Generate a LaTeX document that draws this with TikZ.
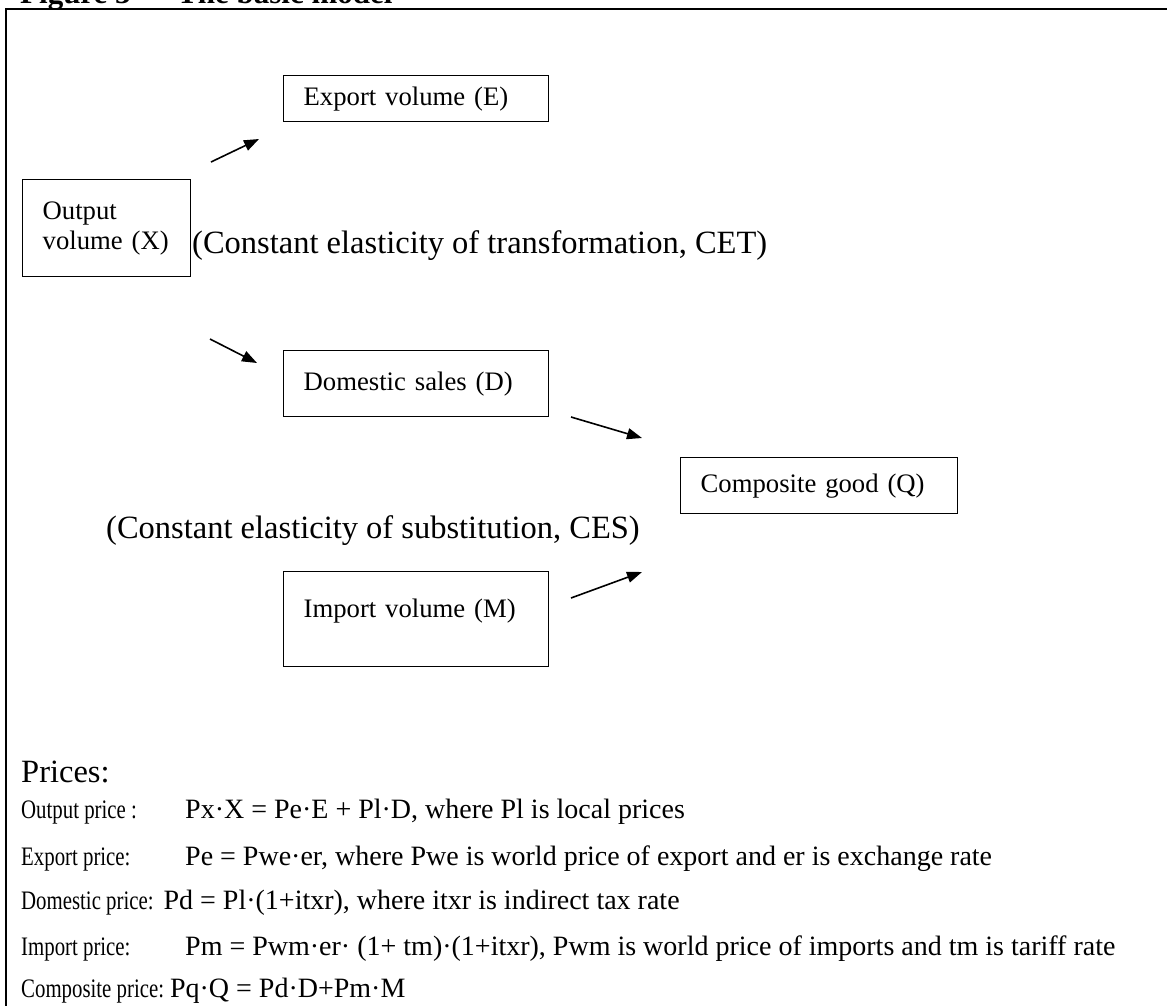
\documentclass[tikz,border=0pt]{standalone}
\usepackage{fontspec}
\setmainfont{Liberation Serif}
\newfontfamily\narrowfam[FakeStretch=0.78]{Liberation Serif}
\usetikzlibrary{positioning,arrows.meta}
\newcommand{\boxfnt}{\fontsize{26.7}{30}\selectfont}
\newcommand{\notefnt}{\fontsize{32.5}{36}\selectfont}
\newcommand{\lblfnt}{\narrowfam\fontsize{26.7}{30}\selectfont}
\newcommand{\eqnfnt}{\fontsize{28}{31}\selectfont}
\newcommand{\ttlfnt}{\fontsize{31}{36}\selectfont\bfseries}
\tikzset{box/.style = {draw, line width=1.3pt, rectangle, anchor=north west, inner xsep=20pt, inner ysep=0pt, align=left, font=\boxfnt}}
\tikzset{oneline/.style = {text height=20pt, text depth=7pt}}
\tikzset{flow/.style = {-{Triangle[length=15pt,width=11pt]}, line width=1.6pt}}
\tikzset{note/.style = {anchor=base west, inner sep=0pt, font=\notefnt}}
\tikzset{price/.style = {anchor=base west, inner sep=0pt, font=\eqnfnt}}
\newcommand{\plbl}[1]{\makebox[164pt][l]{\lblfnt #1}}

\begin{document}
\begin{tikzpicture}[x=1pt, y=-1pt]
  \useasboundingbox (0,0) rectangle (1167,1005);
  % frame and cut title
  \node [anchor=base west, inner sep=0pt, font=\ttlfnt] (ttl) at (20,3) {Figure 3 — The basic model};
  \coordinate (fbl) at (6,1010);
  \coordinate (ftl) at (6,9);
  \coordinate (ftr) at (1170,9);
  \draw [line width=2pt] (fbl) -- (ftl) -- (ftr);

  % boxes
  \node [box, oneline, text width=225pt, minimum height=46pt] (E) at (283,75) {Export volume (E)};
  \node [box, text width=128pt, minimum height=97pt] (X) at (22,179) {Output\\volume (X)};
  \node [box, oneline, text width=225pt, minimum height=66pt] (D) at (283,350) {Domestic sales (D)};
  \node [box, oneline, text width=237pt, minimum height=56pt] (Q) at (680,457) {Composite good (Q)};
  \node [box, text height=20pt, text depth=23pt, text width=225pt, minimum height=95pt] (M) at (283,571) {Import volume (M)};

  \node [note] (cet) at (192,253) {(Constant elasticity of transformation, CET)};
  \node [note] (ces) at (106,538) {(Constant elasticity of substitution, CES)};

  % arrows
  \coordinate (xe0) at (211,162);
  \coordinate (xe1) at (259,139);
  \coordinate (xd0) at (210,339);
  \coordinate (xd1) at (257,363);
  \coordinate (dq0) at (571,417);
  \coordinate (dq1) at (642,438);
  \coordinate (mq0) at (571,598);
  \coordinate (mq1) at (642,572);
  \draw [flow] (xe0) -- (xe1);
  \draw [flow] (xd0) -- (xd1);
  \draw [flow] (dq0) -- (dq1);
  \draw [flow] (mq0) -- (mq1);

  % prices
  \node [note] (prc) at (21,782) {Prices:};
  \node [price] (p1) at (21,818) {\plbl{Output price :}Px·X = Pe·E + Pl·D, where Pl is local prices};
  \node [price] (p2) at (21,865) {\plbl{Export price:}Pe = Pwe·er, where Pwe is world price of export and er is exchange rate};
  \node [price] (p3) at (21,909) {{\lblfnt Domestic price:}\hspace{10pt}Pd = Pl·(1+itxr), where itxr is indirect tax rate};
  \node [price] (p4) at (21,955) {\plbl{Import price:}Pm = Pwm·er· (1+ tm)·(1+itxr), Pwm is world price of imports and tm is tariff rate};
  \node [price] (p5) at (21,997) {{\lblfnt Composite price:}\hspace{6pt}Pq·Q = Pd·D+Pm·M};
\end{tikzpicture}
\end{document}
